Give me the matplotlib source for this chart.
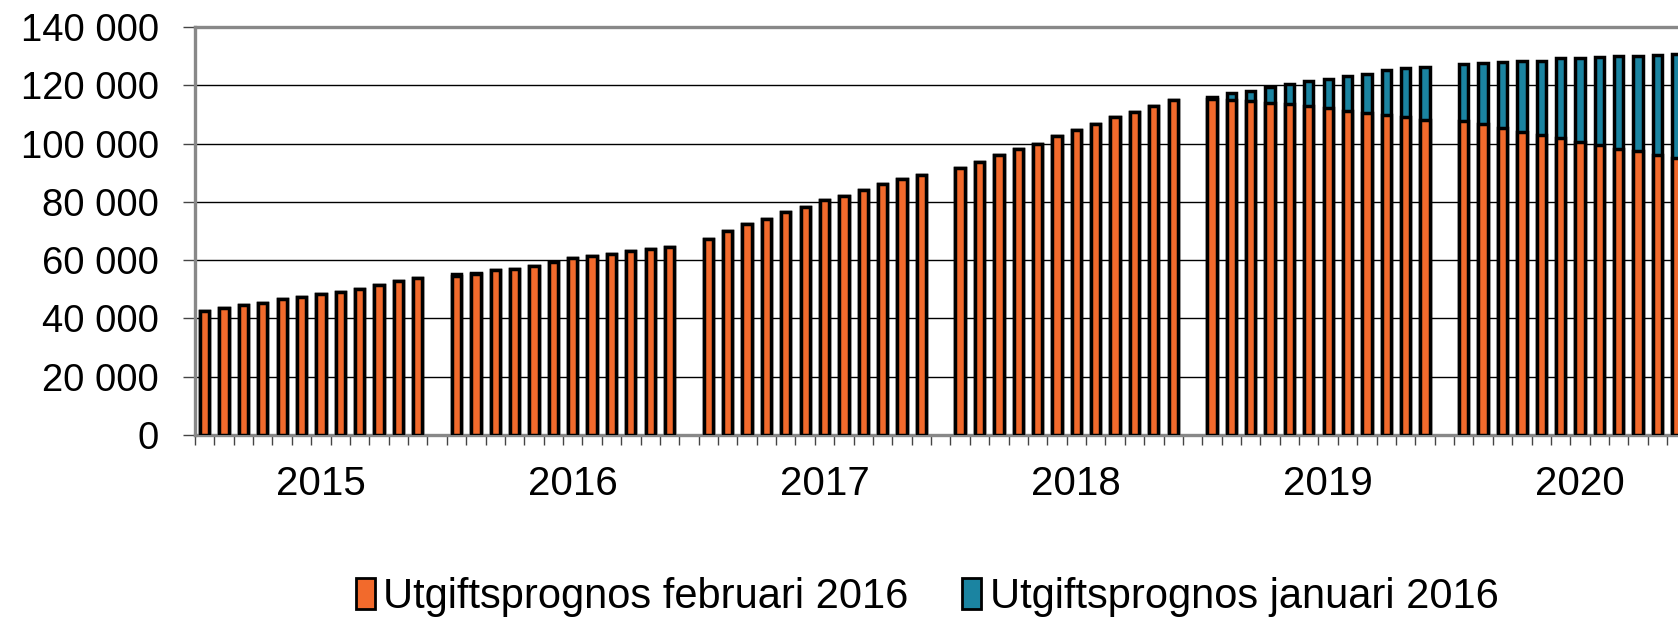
import numpy as np
import matplotlib.pyplot as plt
from matplotlib.patches import Patch
from matplotlib.ticker import FuncFormatter

YEARS = ['2015', '2016', '2017', '2018', '2019', '2020']

# Utgiftsprognos februari 2016 (thousands), one value per month
FEB_2015 = [42.6, 43.5, 44.5, 45.4, 46.5, 47.2, 48.3, 49.0, 50.2, 51.3, 52.9, 54.0]
FEB_2016 = [54.4, 55.4, 56.5, 57.0, 57.9, 59.5, 60.7, 61.4, 62.2, 63.2, 63.7, 64.6]
FEB_2017 = [67.3, 70.1, 72.3, 74.2, 76.5, 78.4, 80.5, 82.1, 84.2, 86.2, 87.7, 89.1]
FEB_2018 = [91.5, 93.7, 96.0, 98.2, 100.0, 102.5, 104.8, 106.8, 109.0, 110.9, 112.8, 114.8]
FEB_2019 = [115.2, 114.9, 114.6, 114.0, 113.5, 112.9, 112.2, 111.3, 110.5, 109.7, 109.0, 108.2]
FEB_2020 = [107.8, 106.7, 105.5, 103.9, 103.1, 101.8, 100.7, 99.4, 98.3, 97.3, 96.1, 94.9]

# Utgiftsprognos januari 2016 (thousands)
JAN_2015 = [42.6, 43.5, 44.5, 45.4, 46.5, 47.2, 48.3, 49.0, 50.2, 51.3, 52.9, 54.0]
JAN_2016 = [55.2, 55.6, 56.6, 57.1, 58.0, 59.5, 60.7, 61.4, 62.2, 63.2, 63.7, 64.6]
JAN_2017 = [67.3, 70.1, 72.3, 74.2, 76.5, 78.4, 80.5, 82.1, 84.2, 86.2, 87.7, 89.1]
JAN_2018 = [91.5, 93.7, 96.0, 98.2, 100.0, 102.5, 104.8, 106.8, 109.0, 110.9, 112.8, 114.8]
JAN_2019 = [115.9, 117.2, 118.0, 119.5, 120.3, 121.3, 122.1, 123.3, 123.9, 125.1, 125.8, 126.3]
JAN_2020 = [127.2, 127.7, 128.1, 128.5, 128.4, 129.2, 129.2, 129.6, 130.1, 130.1, 130.4, 130.8]

LABEL_FEB = 'Utgiftsprognos februari 2016'
LABEL_JAN = 'Utgiftsprognos januari 2016'

ORANGE = '#F26A2C'
BLUE = '#1B84A1'

plt.rcParams['font.family'] = ['Liberation Sans', 'DejaVu Sans']


def space_thousands(v, pos):
    return f'{int(v):,}'.replace(',', ' ')


def gen_chart():
    feb = np.array(FEB_2015 + FEB_2016 + FEB_2017 + FEB_2018 + FEB_2019 + FEB_2020) * 1000
    jan = np.array(JAN_2015 + JAN_2016 + JAN_2017 + JAN_2018 + JAN_2019 + JAN_2020) * 1000
    n = len(feb)
    # 12 months then one empty slot per year
    x = np.arange(n) + np.arange(n) // 12

    fig = plt.figure(figsize=(16.78, 6.19), dpi=100)
    ax = fig.add_axes([195 / 1678, 1 - 435 / 619, 1 - 195 / 1678, 408 / 619])

    ax.bar(x, jan, width=0.48, color=BLUE, edgecolor='black', linewidth=2.5, zorder=2)
    ax.bar(x, feb, width=0.48, color=ORANGE, edgecolor='black', linewidth=2.5, zorder=3)

    ax.set_yticks(np.arange(0, 140001, 20000))
    ax.yaxis.set_major_formatter(FuncFormatter(space_thousands))
    ax.grid(axis='y', color='black', linewidth=1.0, zorder=0)
    ax.set_axisbelow(True)

    ax.tick_params(axis='y', labelsize=27.5, length=9, width=1, color='#444444', pad=17)
    ax.set_xticks(np.arange(-0.5, 78, 1))
    ax.set_xticklabels([])
    ax.tick_params(axis='x', length=7, width=1, color='#444444')

    # limits last, set_xticks would widen them
    ax.set_ylim(0, 140000)
    ax.set_xlim(-0.5, 76.06)

    for i, yr in enumerate(YEARS):
        ax.text(i * 13 + 6, -0.12, yr, transform=ax.get_xaxis_transform(),
                ha='center', va='center', fontsize=29)

    for side in ['left', 'top', 'bottom']:
        ax.spines[side].set_color('#888888')
        ax.spines[side].set_linewidth(2.4)
    ax.spines['right'].set_visible(False)

    handles = [Patch(facecolor=ORANGE, edgecolor='black', linewidth=2.0, label=LABEL_FEB),
               Patch(facecolor=BLUE, edgecolor='black', linewidth=2.0, label=LABEL_JAN)]
    fig.legend(handles=handles, loc='center', bbox_to_anchor=(0.5525, 1 - 597 / 619),
               ncol=2, frameon=False, fontsize=30, handlelength=0.45, handleheight=0.75,
               handletextpad=0.2, columnspacing=1.3)

    fig.savefig('out.png', dpi=100)
    plt.close(fig)


if __name__ == '__main__':
    gen_chart()
